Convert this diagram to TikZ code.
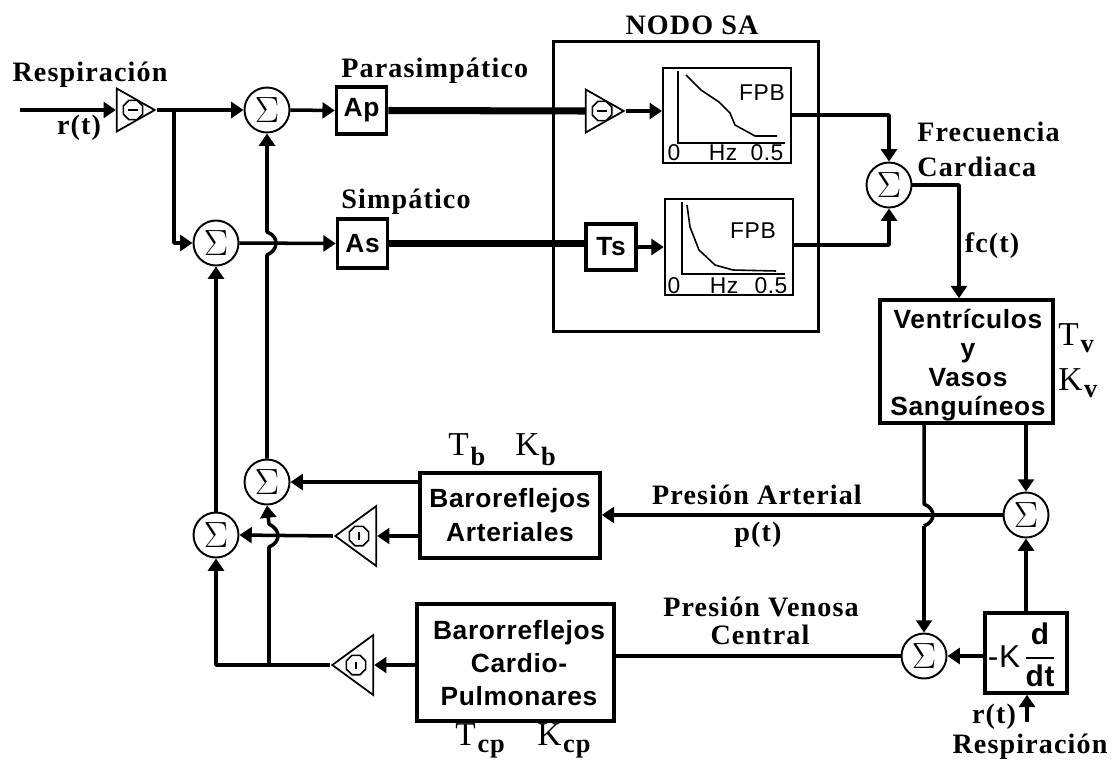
\documentclass[tikz,border=0pt]{standalone}
\usepackage{fontspec}
\setmainfont{Liberation Serif}[LetterSpace=4]
\newfontfamily\blockfont{Liberation Sans}[LetterSpace=2.5]
\usetikzlibrary{arrows.meta,shapes.geometric}
\newcommand{\paramsub}[3][4pt]{#2\kern1pt\lower#1\hbox{\fontsize{15}{15}\selectfont\bfseries #3}}
\begin{document}
\begin{tikzpicture}[
    x=0.02cm,
    y=-0.02cm,
    conn/.style={
        line width=2pt,
        line join=round
    },
    arrowconn/.style={
        conn,
        -{Triangle[length=7pt,width=9pt]}
    },
    bus/.style={
        line width=4pt
    },
    blockbox/.style={
        draw,
        line width=2pt,
        inner sep=0pt,
        align=center,
        font=\blockfont\fontsize{15}{15.5}\selectfont\bfseries
    },
    plotbox/.style={
        draw,
        line width=1.2pt,
        inner sep=0pt
    },
    sumnode/.style={
        draw,
        circle,
        line width=1.1pt,
        fill=white,
        minimum size=0.9cm,
        inner sep=0pt,
        font=\fontsize{20}{20}\selectfont
    },
    amp/.style={
        draw,
        isosceles triangle,
        isosceles triangle stretches,
        line width=1pt,
        minimum width=#1,
        minimum height=0.76cm,
        inner sep=0pt
    },
    amp/.default=0.86cm,
    octbase/.style={
        draw,
        regular polygon,
        regular polygon sides=8,
        line width=0.9pt,
        minimum size=0.42cm,
        inner sep=0pt
    },
    octminus/.style={
        octbase,
        path picture={\draw[line width=1.5pt]
            ([xshift=-3pt]path picture bounding box.center) --
            ([xshift=3pt]path picture bounding box.center);}
    },
    octtick/.style={
        octbase,
        path picture={\draw[line width=1.5pt]
            ([yshift=-2pt]path picture bounding box.center) --
            ([yshift=2pt]path picture bounding box.center);}
    },
    label/.style={
        inner sep=0pt,
        font=\fontsize{16}{16}\selectfont\bfseries
    },
    param/.style={
        inner sep=0pt,
        anchor=base west,
        font=\fontsize{19}{19}\selectfont
    },
    plottext/.style={
        inner sep=0pt,
        font=\blockfont\fontsize{13}{13}\selectfont
    }
]
\useasboundingbox (0,0) rectangle (1114,761);

% =====================
% Nodo SA
% =====================
\node[draw,line width=2pt,minimum width=5.3cm,minimum height=5.8cm,inner sep=0pt] (nodo) at (686,186.5) {};
\node[label] (nodotxt) at (692,25) {NODO SA};

% =====================
% Bloques
% =====================
\node[blockbox,minimum width=1cm,minimum height=0.94cm] (ap) at (361.5,110.5) {Ap};
\node[blockbox,minimum width=1cm,minimum height=0.98cm] (as) at (362.5,243.5) {As};
\node[blockbox,minimum width=1cm,minimum height=0.92cm] (ts) at (611,247) {Ts};
\node[blockbox,minimum width=3.46cm,minimum height=2.46cm] (vent) at (966.5,361.5) {};
\node[blockbox,minimum width=3.6cm,minimum height=1.7cm] (baroa) at (510,515.5) {};
\node[blockbox,minimum width=3.94cm,minimum height=2.34cm] (baroc) at (515.5,662.5) {};
\node[blockbox,minimum width=1.64cm,minimum height=1.6cm] (deriv) at (1026,653) {};
\node[plotbox,minimum width=2.56cm,minimum height=1.9cm] (fpba) at (727,115.5) {};
\node[plotbox,minimum width=2.57cm,minimum height=1.92cm] (fpbb) at (729,247) {};

% =====================
% Sumadores
% =====================
\node[sumnode] (suma) at (267,110) {$\Sigma$};
\node[sumnode] (sumb) at (216,243) {$\Sigma$};
\node[sumnode] (sumc) at (267,482) {$\Sigma$};
\node[sumnode] (sumd) at (216,535) {$\Sigma$};
\node[sumnode] (sume) at (889,185) {$\Sigma$};
\node[sumnode] (sumf) at (1026,515) {$\Sigma$};
\node[sumnode] (sumg) at (924,656) {$\Sigma$};

% =====================
% Ganancias
% =====================
\node[amp,anchor=apex] (ampa) at (157,110) {};
\node[octminus] (octa) at (133,110) {};
\node[amp,anchor=apex] (ampb) at (626,111) {};
\node[octminus] (octb) at (602,111) {};
\node[amp=1.2cm,minimum height=0.82cm,shape border rotate=180,anchor=apex] (ampc) at (333,536) {};
\node[octtick] (octc) at (359,536) {};
\node[amp=1.2cm,minimum height=0.82cm,shape border rotate=180,anchor=apex] (ampd) at (330,665) {};
\node[octtick] (octd) at (356,665) {};

% =====================
% Graficas FPB
% =====================
\draw[line width=0.9pt] (678,71) -- (678,143) -- (785,143);
\draw[line width=0.9pt] (686,75) -- (701,90) -- (719,102) -- (730,113) -- (735,125) -- (755,136) -- (777,136);
\node[plottext] (fpbatxt) at (762,93) {FPB};
\node[plottext] (fpbacero) at (674,153) {0};
\node[plottext] (fpbahz) at (723,153) {Hz};
\node[plottext] (fpbacinco) at (767,153) {0.5};
\draw[line width=0.9pt] (682,202) -- (682,274) -- (785,274);
\draw[line width=0.9pt] (687,205) -- (690,227) -- (699,250) -- (715,265) -- (733,270) -- (776,271);
\node[plottext] (fpbbtxt) at (753,231) {FPB};
\node[plottext] (fpbbcero) at (674,286) {0};
\node[plottext] (fpbbhz) at (724,286) {Hz};
\node[plottext] (fpbbcinco) at (771,286) {0.5};

% =====================
% Textos de bloques
% =====================
\node[blockbox,draw=none] (venttxt) at (968,365) {Ventr\'iculos\\[1pt]y\\[1pt]Vasos\\[1pt]Sangu\'ineos};
\node[blockbox,draw=none] (baroatxt) at (510,515) {Baroreflejos\\[3.5pt]Arteriales};
\node[blockbox,draw=none] (baroctxt) at (519,663) {Barorreflejos\\[3.5pt]Cardio-\\[3.5pt]Pulmonares};
\node[blockbox,draw=none,font=\blockfont\fontsize{18}{18}\selectfont] (derivk) at (1004,657) {-K};
\node[blockbox,draw=none,font=\fontsize{17}{17}\selectfont\blockfont\bfseries] (derivf) at (1040,655) {$\displaystyle{\mbox{d}\above1.2pt\mbox{dt}}$};

% =====================
% Etiquetas
% =====================
\node[label] (resp) at (90,75) {Respiraci\'on};
\node[label] (rt) at (79,128) {r(t)};
\node[label,anchor=west] (paras) at (341,71) {Parasimp\'atico};
\node[label,anchor=west] (simp) at (341,202) {Simp\'atico};
\node[label,anchor=west] (frec) at (917,132) {Frecuencia};
\node[label,anchor=west] (card) at (917,167) {Cardiaca};
\node[label] (fct) at (992,246) {fc(t)};
\node[label] (presa) at (757,495) {Presi\'on Arterial};
\node[label] (pt) at (758,535) {p(t)};
\node[label] (presv) at (761,607) {Presi\'on Venosa};
\node[label] (centr) at (760,635) {Central};
\node[label] (rtb) at (994,717) {r(t)};
\node[label] (respb) at (1030,747) {Respiraci\'on};
\node[param] (tv) at (1058,345) {\paramsub{T}{v}};
\node[param] (kv) at (1058,390) {\paramsub{K}{v}};
\node[param] (tb) at (448,455) {\paramsub[6pt]{T}{b}};
\node[param] (kb) at (515,455) {\paramsub[6pt]{K}{b}};
\node[param] (tcp) at (455,745) {\paramsub{T}{cp}};
\node[param] (kcp) at (537,745) {\paramsub{K}{cp}};

% =====================
% Conexiones superiores
% =====================
\coordinate (entrada) at (20,110);
\coordinate (resptip) at (1027,722);
\draw[arrowconn] (entrada) -- (ampa.lower side);
\draw[arrowconn] (ampa.apex) -- (suma.west);
\draw[arrowconn] (suma.east) -- (ap.west);
\draw[arrowconn] (174,110) |- (sumb.west);
\draw[arrowconn] (sumb.east) -- (as.west);
\draw[bus] (ap.east) -- (ampb.lower side);
\draw[bus] (as.east) -- (ts.west |- as.east);
\draw[arrowconn] (ampb.apex) -- (fpba.west |- ampb.apex);
\draw[arrowconn] (ts.east) -- (fpbb.west |- ts.east);
\draw[arrowconn] (fpba.east |- 0,115) -| (sume.north);
\draw[arrowconn] (fpbb.east |- 0,245) -| (sume.south);
\draw[arrowconn] (sume.east) -| (vent.north -| 959,0);

% =====================
% Conexiones inferiores
% =====================
\draw[arrowconn] (sumc.north) -- (267,255) .. controls (279,250) and (279,236) .. (267,232) -- (suma.south);
\draw[arrowconn] (sumd.north) -- (sumb.south);
\draw[arrowconn] (vent.south -| sumf.north) -- (sumf.north);
\draw[conn] (vent.south -| sumg.north) -- (924,504) .. controls (936,509) and (936,521) .. (924,526);
\draw[arrowconn] (924,526) -- (sumg.north);
\draw[arrowconn] (sumf.west) -- (baroa.east |- sumf.west);
\draw[arrowconn] (deriv.north |- deriv.north) -- (sumf.south);
\draw[arrowconn] (deriv.west |- sumg.east) -- (sumg.east);
\draw[arrowconn] (resptip) -- (deriv.south -| resptip);
\draw[conn] (sumg.west) -- (baroc.east |- sumg.west);
\draw[arrowconn] (baroa.west |- sumc.east) -- (sumc.east);
\draw[arrowconn] (baroa.west |- ampc.lower side) -- (ampc.lower side);
\draw[arrowconn] (ampc.apex) -- (sumd.east);
\draw[arrowconn] (baroc.west |- ampd.lower side) -- (ampd.lower side);
\draw[arrowconn] (ampd.apex) -- (216,665) -- (sumd.south);
\draw[arrowconn] (269,665) -- (269,547) .. controls (281,542) and (281,530) .. (269,524) -- (sumc.south);

\end{tikzpicture}
\end{document}
